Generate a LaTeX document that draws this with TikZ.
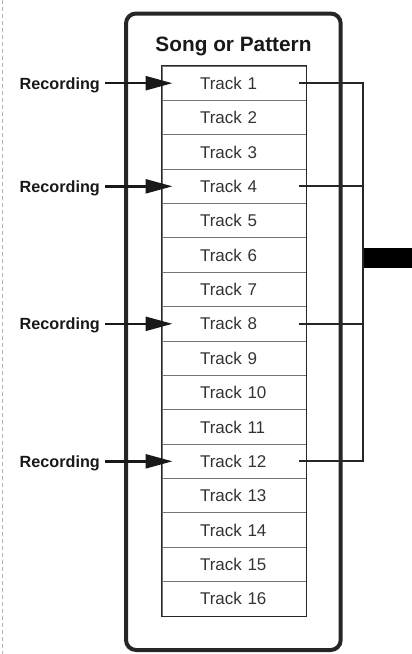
\documentclass[tikz,border=0pt]{standalone}
\usepackage{fontspec}
\setmainfont{Liberation Sans}
\usetikzlibrary{arrows.meta,calc}
\begin{document}
\begin{tikzpicture}[x=1pt,y=-1pt,
  trk/.style={draw=black!55, line width=1pt, minimum height=34.375pt, text width=68pt,
    inner xsep=38pt, inner ysep=0pt, align=left, font=\fontsize{17}{20}\selectfont,
    text=black!80, anchor=center},
  reclab/.style={font=\bfseries\fontsize{16.2}{19}\selectfont, inner sep=0pt, anchor=east,
    text depth=0pt, text=black!90},
  recarrow/.style={line width=2.5pt, black!90, -{Triangle[length=27pt,width=14pt]}},
  conn/.style={line width=1.8pt, black!85},
  outerbox/.style={draw=black!85, line width=4pt, rounded corners=10pt, inner sep=0pt}]
\useasboundingbox (0,0) rectangle (412,654);
% left dashed margin line
\draw[black!30, line width=1pt, dash pattern=on 4pt off 3pt] (2,0) -- (2,654);
% outer box
\node[outerbox, minimum width=214.7pt, minimum height=636.5pt] (box) at (233.35,331.75) {};
\node[font=\bfseries\fontsize{20.8}{24}\selectfont, anchor=base, text=black!90] (title) at (233.5,51.7) {Song or Pattern};
% tracks
\foreach \k in {1,...,16}
  \node[trk] (t\k) at (234,{66+(\k-0.5)*34.375}) {Track \k};
\draw[line width=1.8pt, black!85] (t1.north west) rectangle (t16.south east);
% recording arrows
\foreach \k in {1,4,8,12}{
  \node[reclab] (r\k) at (100,{66+(\k-0.5)*34.375}) {Recording};
  \draw[recarrow] ($(r\k.east)+(5,0)$) -- ($(t\k.west)+(11,0)$);
  \coordinate (o\k) at ($(t\k.east)+(-8,0)$);
}
% right connectors
\coordinate (bus) at (363,0);
\draw[conn] (o1) -- (o1 -| bus) -- (o12 -| bus) -- (o12);
\draw[conn] (o4) -- (o4 -| bus);
\draw[conn] (o8) -- (o8 -| bus);
\node[fill=black, inner sep=0pt, minimum width=49pt, minimum height=20pt, anchor=west] (bar) at (363.5,258) {};
\end{tikzpicture}
\end{document}
